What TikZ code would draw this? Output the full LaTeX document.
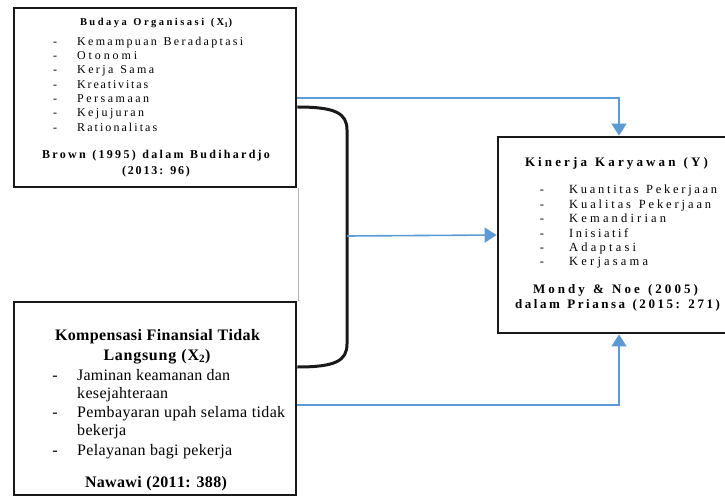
\documentclass[tikz,border=0pt]{standalone}
\usepackage{fontspec}
\setmainfont{Liberation Serif}
\usetikzlibrary{arrows.meta}
\definecolor{arrowblue}{HTML}{5B9BD5}
% letter spacing fitted to a target width
\newdimen\lsamt \newdimen\lsN \newdimen\lsM \newcount\lsc
\lsc=33 \loop \XeTeXcharclass\lsc=7 \advance\lsc by 1 \ifnum\lsc<127 \repeat
\XeTeXinterchartoks 7 7 = {\kern\lsamt}
\newcommand\setsp{\spaceskip=\dimexpr\fontdimen2\font+1.6\lsamt\relax}
\newcommand\fitw[2]{\begingroup\XeTeXinterchartokenstate=1
  \lsamt=0pt\setsp\settowidth\lsN{#2}\lsamt=1pt\setsp\settowidth\lsM{#2}%
  \pgfmathsetlength\lsamt{(#1pt-\lsN)/(\lsM-\lsN)*1pt}\setsp#2\endgroup}
\begin{document}
\begin{tikzpicture}[x=1pt,y=-1pt,
  boxframe/.style={draw=black!90, line width=2.8pt, inner sep=0pt},
  link/.style={draw=arrowblue, line width=1.6pt, -{Triangle[width=15pt,length=12pt]}},
  bracketline/.style={draw=black!90, line width=3pt},
  artifact/.style={draw=black!30, line width=0.8pt},
  fa/.style={font=\fontsize{12}{14}\selectfont},
  fatitle/.style={font=\fontsize{10.5}{12}\selectfont\bfseries},
  facite/.style={font=\fontsize{12}{14}\selectfont\bfseries},
  fc/.style={font=\fontsize{12.5}{14}\selectfont},
  fcb/.style={font=\fontsize{13}{15}\selectfont\bfseries},
  fb/.style={font=\fontsize{16}{18}\selectfont},
  fbb/.style={font=\fontsize{16}{18}\selectfont\bfseries},
  ctext/.style={inner sep=0pt, anchor=base},
  ltext/.style={inner sep=0pt, anchor=base west}]
\useasboundingbox (0,0) rectangle (725,497);
\clip (0,0) rectangle (725,497);

% boxes
\node[boxframe, minimum width=282pt, minimum height=179pt] (b1) at (155,97.5) {};
\node[boxframe, minimum width=282pt, minimum height=193pt] (b2) at (155,398.5) {};
\node[boxframe, minimum width=242pt, minimum height=196pt] (b3) at (619,235) {};

% faint scan edge between the left boxes
\draw[artifact] ([xshift=1pt]b1.south east) -- ([xshift=1pt]b2.north east);

% box 1 text
\node[ctext, fatitle] (t1) at (156,26) {\fitw{152}{Budaya Organisasi (X\textsubscript{1})}};
\foreach \t/\w [count=\i] in {Kemampuan Beradaptasi/166, Otonomi/60, Kerja Sama/77, Kreativitas/71, Persamaan/72, Kejujuran/67, Rationalitas/80} {
  \node[ctext, fa] (d1-\i) at (55, 31+14.3*\i) {-};
  \node[ltext, fa] (i1-\i) at (77, 31+14.3*\i) {\fitw{\w}{\t}};
}
\node[ctext, facite] (c1a) at (156,158.5) {\fitw{228}{Brown (1995) dalam Budihardjo}};
\node[ctext, facite] (c1b) at (156,174.5) {\fitw{68}{(2013: 96)}};

% box 2 text
\node[ctext, fbb] (t2a) at (157.5,340) {\fitw{205}{Kompensasi Finansial Tidak}};
\node[ctext, fbb] (t2b) at (157,360) {\fitw{107}{Langsung (X\textsubscript{2})}};
\node[ctext, fb] (d2-1) at (55,380) {-};
\node[ltext, fb] (i2-1) at (77,380) {\fitw{153}{Jaminan keamanan dan}};
\node[ltext, fb] (i2-1b) at (77,398) {\fitw{91}{kesejahteraan}};
\node[ctext, fb] (d2-2) at (55,417) {-};
\node[ltext, fb] (i2-2) at (77,417) {\fitw{208}{Pembayaran upah selama tidak}};
\node[ltext, fb] (i2-2b) at (77,435) {\fitw{49}{bekerja}};
\node[ctext, fb] (d2-3) at (55,455) {-};
\node[ltext, fb] (i2-3) at (77,455) {\fitw{155}{Pelayanan bagi pekerja}};
\node[ctext, fbb] (c2) at (156,487) {\fitw{142}{Nawawi (2011: 388)}};

% box 3 text
\node[ctext, fcb] (t3) at (616.5,166.5) {\fitw{183}{Kinerja Karyawan (Y)}};
\foreach \t/\w [count=\i] in {Kuantitas Pekerjaan/148, Kualitas Pekerjaan/142, Kemandirian/97, Inisiatif/59, Adaptasi/67, Kerjasama/79} {
  \node[ctext, fc] (d3-\i) at (542, 179.5+14.4*\i) {-};
  \node[ltext, fc] (i3-\i) at (569, 179.5+14.4*\i) {\fitw{\w}{\t}};
}
\node[ctext, fcb] (c3a) at (615.5,293.5) {\fitw{165}{Mondy \& Noe (2005)}};
\node[ctext, fcb] (c3b) at (617.5,308.5) {\fitw{205}{dalam Priansa (2015: 271)}};

% bracket joining the two predictors
\coordinate (bm) at (347,236);
\draw[bracketline] (b1.east |- 0,107) .. controls (335,107) and (347,113) .. (347,130)
  -- (bm) -- (347,344) .. controls (347,361) and (335,367) .. (b2.east |- 0,367);

% arrows
\draw[link] ([yshift=-0.5pt]b1.east) -| (b3.north);
\draw[link] (bm) -- (b3.west);
\draw[link] ([yshift=-6.5pt]b2.east) -| (b3.south);
\end{tikzpicture}
\end{document}
